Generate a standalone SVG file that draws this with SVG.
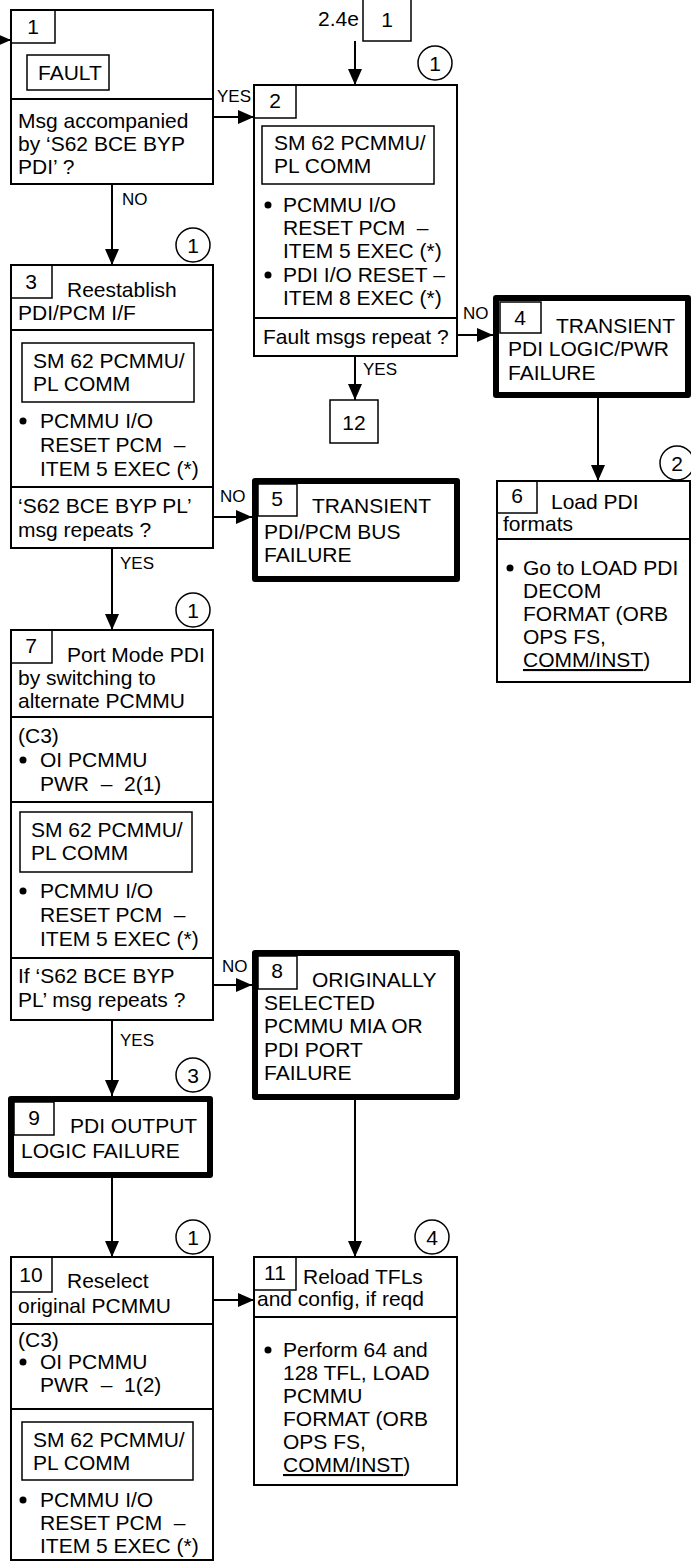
<svg xmlns="http://www.w3.org/2000/svg" width="691" height="1562" viewBox="0 0 691 1562">
<defs>
<style>
text{font-family:"Liberation Sans",Arial,sans-serif;fill:#000;white-space:pre}
.t{font-size:21px}
.c{font-size:21px;text-anchor:middle}
.l{font-size:17px}
.box{fill:#fff;stroke:#000;stroke-width:2}
.thick{fill:#fff;stroke:#000;stroke-width:6;stroke-linejoin:round}
.nb{fill:none;stroke:#000;stroke-width:1.5}
.div{stroke:#000;stroke-width:2}
.circ{fill:none;stroke:#000;stroke-width:1.5}
.con{stroke:#000;stroke-width:2;fill:none;marker-end:url(#ah)}
.u{text-decoration:underline}
</style>
<marker id="ah" markerUnits="userSpaceOnUse" markerWidth="16" markerHeight="14" refX="16" refY="7" orient="auto">
<path d="M0,0 L16,7 L0,14 z" fill="#000"/>
</marker>
</defs>
<rect width="691" height="1562" fill="#fff"/>

<g id="connectors">
<line class="con" x1="-5" y1="40" x2="11" y2="40"/>
<line class="con" x1="213" y1="117" x2="254" y2="117"/>
<line class="con" x1="112" y1="184" x2="112" y2="265"/>
<line class="con" x1="355" y1="41" x2="355" y2="85"/>
<line class="con" x1="457" y1="335" x2="493" y2="335"/>
<line class="con" x1="355" y1="356" x2="355" y2="400"/>
<line class="con" x1="213" y1="517" x2="252" y2="517"/>
<line class="con" x1="112" y1="548" x2="112" y2="630"/>
<line class="con" x1="598" y1="398" x2="598" y2="481"/>
<line class="con" x1="213" y1="985" x2="252" y2="985"/>
<line class="con" x1="112" y1="1020" x2="112" y2="1096"/>
<line class="con" x1="112" y1="1178" x2="112" y2="1257"/>
<line class="con" x1="355" y1="1100" x2="355" y2="1257"/>
<line class="con" x1="213" y1="1300" x2="254" y2="1300"/>
<text class="l" x="217" y="102">YES</text>
<text class="l" x="122" y="205">NO</text>
<text class="l" x="463" y="319">NO</text>
<text class="l" x="363" y="375">YES</text>
<text class="l" x="220" y="502">NO</text>
<text class="l" x="120" y="569">YES</text>
<text class="l" x="222" y="972">NO</text>
<text class="l" x="120" y="1046">YES</text>
</g>

<g id="circles">
<circle class="circ" cx="435" cy="63" r="17"/><text class="c" x="435" y="71">1</text>
<circle class="circ" cx="193" cy="245" r="17"/><text class="c" x="193" y="253">1</text>
<circle class="circ" cx="677" cy="463" r="17"/><text class="c" x="677" y="471">2</text>
<circle class="circ" cx="193" cy="610" r="17"/><text class="c" x="193" y="618">1</text>
<circle class="circ" cx="193" cy="1075" r="17"/><text class="c" x="193" y="1083">3</text>
<circle class="circ" cx="193" cy="1237" r="17"/><text class="c" x="193" y="1245">1</text>
<circle class="circ" cx="432" cy="1237" r="17"/><text class="c" x="432" y="1245">4</text>
</g>

<g id="ref-2-4e">
<text class="t" x="318" y="26">2.4e</text>
<rect class="nb" x="363" y="-2" width="48" height="43"/>
<text class="c" x="387" y="27">1</text>
</g>

<g id="node1">
<rect class="box" x="11" y="10" width="202" height="174"/>
<rect class="nb" x="11" y="10" width="44" height="33"/>
<text class="c" x="33" y="34">1</text>
<rect class="nb" x="27" y="55" width="82" height="35"/>
<text class="t" x="38" y="80">FAULT</text>
<line class="div" x1="11" y1="99" x2="213" y2="99"/>
<text class="t" x="18" y="128">Msg accompanied</text>
<text class="t" x="18" y="151">by ‘S62 BCE BYP</text>
<text class="t" x="18" y="174">PDI’ ?</text>
</g>

<g id="node2">
<rect class="box" x="254" y="85" width="203" height="271"/>
<rect class="nb" x="254" y="85" width="42" height="33"/>
<text class="c" x="275" y="108">2</text>
<rect class="nb" x="262" y="126" width="172" height="58"/>
<text class="t" x="274" y="150">SM 62 PCMMU/</text>
<text class="t" x="274" y="173">PL COMM</text>
<circle cx="268" cy="205" r="3.5"/>
<text class="t" x="283" y="212">PCMMU I/O</text>
<text class="t" x="283" y="235">RESET PCM  –</text>
<text class="t" x="283" y="258">ITEM 5 EXEC (*)</text>
<circle cx="268" cy="275" r="3.5"/>
<text class="t" x="283" y="282">PDI I/O RESET –</text>
<text class="t" x="283" y="305">ITEM 8 EXEC (*)</text>
<line class="div" x1="254" y1="318" x2="457" y2="318"/>
<text class="t" x="263" y="344">Fault msgs repeat ?</text>
</g>

<g id="node3">
<rect class="box" x="11" y="265" width="202" height="283"/>
<rect class="nb" x="11" y="265" width="41" height="33"/>
<text class="c" x="31" y="289">3</text>
<text class="t" x="67" y="297">Reestablish</text>
<text class="t" x="18" y="320">PDI/PCM I/F</text>
<line class="div" x1="11" y1="330" x2="213" y2="330"/>
<rect class="nb" x="22" y="343" width="172" height="59"/>
<text class="t" x="33" y="368">SM 62 PCMMU/</text>
<text class="t" x="33" y="391">PL COMM</text>
<circle cx="23" cy="421" r="3.5"/>
<text class="t" x="40" y="428">PCMMU I/O</text>
<text class="t" x="40" y="452">RESET PCM  –</text>
<text class="t" x="40" y="476">ITEM 5 EXEC (*)</text>
<line class="div" x1="11" y1="487" x2="213" y2="487"/>
<text class="t" x="18" y="513">‘S62 BCE BYP PL’</text>
<text class="t" x="18" y="537">msg repeats ?</text>
</g>

<g id="node4">
<rect class="thick" x="496" y="298" width="192" height="97"/>
<rect class="nb" x="500" y="302" width="41" height="31"/>
<text class="c" x="520" y="325">4</text>
<text class="t" x="556" y="333">TRANSIENT</text>
<text class="t" x="508" y="356">PDI LOGIC/PWR</text>
<text class="t" x="508" y="380">FAILURE</text>
</g>

<g id="node12">
<rect class="nb" x="330" y="400" width="48" height="43"/>
<text class="c" x="354" y="430">12</text>
</g>

<g id="node5">
<rect class="thick" x="255" y="481" width="202" height="98"/>
<rect class="nb" x="258" y="484" width="39" height="32"/>
<text class="c" x="277" y="506">5</text>
<text class="t" x="312" y="513">TRANSIENT</text>
<text class="t" x="264" y="539">PDI/PCM BUS</text>
<text class="t" x="264" y="562">FAILURE</text>
</g>

<g id="node6">
<rect class="box" x="497" y="481" width="193" height="201"/>
<rect class="nb" x="497" y="481" width="40" height="32"/>
<text class="c" x="517" y="503">6</text>
<text class="t" x="551" y="509">Load PDI</text>
<text class="t" x="503" y="531">formats</text>
<line class="div" x1="497" y1="539" x2="690" y2="539"/>
<circle cx="510" cy="568" r="3.5"/>
<text class="t" x="523" y="575">Go to LOAD PDI</text>
<text class="t" x="523" y="598">DECOM</text>
<text class="t" x="523" y="621">FORMAT (ORB</text>
<text class="t" x="523" y="644">OPS FS,</text>
<text class="t" x="523" y="667"><tspan class="u">COMM/INST</tspan>)</text>
</g>

<g id="node7">
<rect class="box" x="11" y="630" width="202" height="390"/>
<rect class="nb" x="11" y="630" width="41" height="33"/>
<text class="c" x="31" y="653">7</text>
<text class="t" x="67" y="662">Port Mode PDI</text>
<text class="t" x="18" y="685">by switching to</text>
<text class="t" x="18" y="708">alternate PCMMU</text>
<line class="div" x1="11" y1="717" x2="213" y2="717"/>
<text class="t" x="18" y="743">(C3)</text>
<circle cx="23" cy="760" r="3.5"/>
<text class="t" x="40" y="767">OI PCMMU</text>
<text class="t" x="40" y="791">PWR  –  2(1)</text>
<line class="div" x1="11" y1="802" x2="213" y2="802"/>
<rect class="nb" x="20" y="812" width="172" height="60"/>
<text class="t" x="31" y="837">SM 62 PCMMU/</text>
<text class="t" x="31" y="860">PL COMM</text>
<circle cx="23" cy="891" r="3.5"/>
<text class="t" x="40" y="898">PCMMU I/O</text>
<text class="t" x="40" y="922">RESET PCM  –</text>
<text class="t" x="40" y="946">ITEM 5 EXEC (*)</text>
<line class="div" x1="11" y1="958" x2="213" y2="958"/>
<text class="t" x="18" y="983">If ‘S62 BCE BYP</text>
<text class="t" x="18" y="1007">PL’ msg repeats ?</text>
</g>

<g id="node8">
<rect class="thick" x="255" y="953" width="202" height="144"/>
<rect class="nb" x="258" y="956" width="39" height="33"/>
<text class="c" x="277" y="978">8</text>
<text class="t" x="312" y="987">ORIGINALLY</text>
<text class="t" x="264" y="1010">SELECTED</text>
<text class="t" x="264" y="1033">PCMMU MIA OR</text>
<text class="t" x="264" y="1057">PDI PORT</text>
<text class="t" x="264" y="1080">FAILURE</text>
</g>

<g id="node9">
<rect class="thick" x="11" y="1099" width="199" height="76"/>
<rect class="nb" x="14" y="1102" width="40" height="33"/>
<text class="c" x="34" y="1125">9</text>
<text class="t" x="70" y="1133">PDI OUTPUT</text>
<text class="t" x="21" y="1158">LOGIC FAILURE</text>
</g>

<g id="node10">
<rect class="box" x="11" y="1257" width="202" height="303"/>
<rect class="nb" x="11" y="1257" width="41" height="35"/>
<text class="c" x="31" y="1282">10</text>
<text class="t" x="67" y="1288">Reselect</text>
<text class="t" x="18" y="1313">original PCMMU</text>
<line class="div" x1="11" y1="1324" x2="213" y2="1324"/>
<text class="t" x="18" y="1347">(C3)</text>
<circle cx="23" cy="1362" r="3.5"/>
<text class="t" x="40" y="1369">OI PCMMU</text>
<text class="t" x="40" y="1392">PWR  –  1(2)</text>
<line class="div" x1="11" y1="1409" x2="213" y2="1409"/>
<rect class="nb" x="22" y="1422" width="171" height="58"/>
<text class="t" x="33" y="1447">SM 62 PCMMU/</text>
<text class="t" x="33" y="1470">PL COMM</text>
<circle cx="23" cy="1500" r="3.5"/>
<text class="t" x="40" y="1507">PCMMU I/O</text>
<text class="t" x="40" y="1530">RESET PCM  –</text>
<text class="t" x="40" y="1553">ITEM 5 EXEC (*)</text>
</g>

<g id="node11">
<rect class="box" x="254" y="1257" width="203" height="228"/>
<rect class="nb" x="254" y="1257" width="42" height="33"/>
<text class="c" x="275" y="1280">11</text>
<text class="t" x="303" y="1284">Reload TFLs</text>
<text class="t" x="257" y="1306">and config, if reqd</text>
<line class="div" x1="254" y1="1317" x2="457" y2="1317"/>
<circle cx="268" cy="1350" r="3.5"/>
<text class="t" x="283" y="1357">Perform 64 and</text>
<text class="t" x="283" y="1380">128 TFL, LOAD</text>
<text class="t" x="283" y="1403">PCMMU</text>
<text class="t" x="283" y="1426">FORMAT (ORB</text>
<text class="t" x="283" y="1449">OPS FS,</text>
<text class="t" x="283" y="1472"><tspan class="u">COMM/INST</tspan>)</text>
</g>
</svg>
